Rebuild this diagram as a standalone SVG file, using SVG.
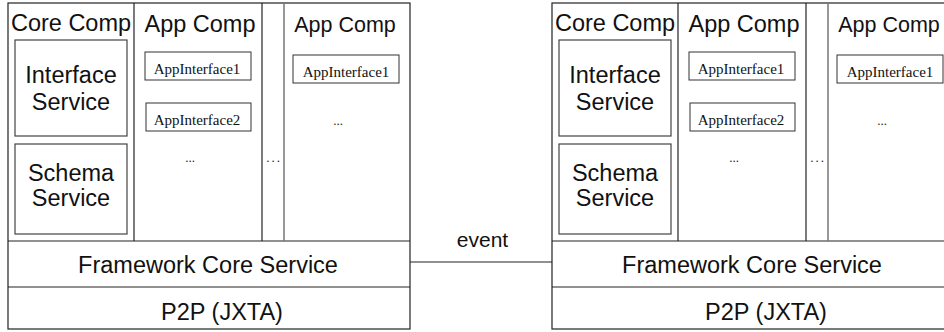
<svg xmlns="http://www.w3.org/2000/svg" width="944" height="332" viewBox="0 0 944 332">
<style>
  .frame{fill:#fff;stroke:#222;stroke-width:1.2}
  .div{stroke:#222;stroke-width:1.2;fill:none}
  .gdiv{stroke:#777;stroke-width:1.5;fill:none}
  .box{fill:#fff;stroke:#444;stroke-width:1.2}
  .sbox{fill:#fff;stroke:#333;stroke-width:1}
  .big{font-family:"Liberation Sans",Arial,sans-serif;font-size:23.5px;fill:#111;text-anchor:middle}
  .small{font-family:"Liberation Serif","Times New Roman",serif;font-size:15px;fill:#111;text-anchor:middle}
  .dots{font-family:"Liberation Serif","Times New Roman",serif;font-size:13px;fill:#222;text-anchor:middle}
  .conn{stroke:#222;stroke-width:1.2;fill:none}
  .lbl{font-family:"Liberation Sans",Arial,sans-serif;font-size:21px;fill:#111;text-anchor:middle}
</style>
<defs>
  <g id="stack">
    <rect class="frame" x="8" y="3" width="402" height="326"/>
    <line class="div" x1="8" y1="241" x2="410" y2="241"/>
    <line class="div" x1="8" y1="287" x2="410" y2="287"/>
    <line class="div" x1="134" y1="3" x2="134" y2="241"/>
    <line class="div" x1="262" y1="3" x2="262" y2="241"/>
    <line class="gdiv" x1="284" y1="3" x2="284" y2="241"/>
    <g class="core">
      <text class="big" x="71" y="31">Core Comp</text>
      <rect class="box" x="15" y="40" width="112" height="96"/>
      <text class="big" x="71" y="83">Interface</text>
      <text class="big" x="71" y="110">Service</text>
      <rect class="box" x="15" y="144" width="112" height="90"/>
      <text class="big" x="71" y="181">Schema</text>
      <text class="big" x="71" y="206">Service</text>
    </g>
    <g class="app1">
      <text class="big" x="200" y="31.5">App Comp</text>
      <rect class="sbox" x="145" y="52" width="106" height="28"/>
      <text class="small" x="197" y="74">AppInterface1</text>
      <rect class="sbox" x="146" y="103" width="105" height="28"/>
      <text class="small" x="197" y="125">AppInterface2</text>
      <text class="dots" x="190" y="162">...</text>
    </g>
    <text class="dots" x="274" y="162" letter-spacing="2">...</text>
    <g class="app2">
      <text class="big" x="345" y="31.5" style="font-size:21.5px">App Comp</text>
      <rect class="sbox" x="293" y="55" width="106" height="28"/>
      <text class="small" x="346" y="77">AppInterface1</text>
      <text class="dots" x="338" y="125">...</text>
    </g>
    <text class="big" x="208" y="273">Framework Core Service</text>
    <text class="big" x="222" y="320">P2P (JXTA)</text>
  </g>
</defs>
<g id="peer-left">
  <use href="#stack"/>
</g>
<g id="peer-right" transform="translate(544,0)">
  <use href="#stack"/>
</g>
<g id="connectors">
  <line class="conn" x1="410" y1="262" x2="552" y2="262"/>
  <text class="lbl" x="482.5" y="247">event</text>
</g>
</svg>
